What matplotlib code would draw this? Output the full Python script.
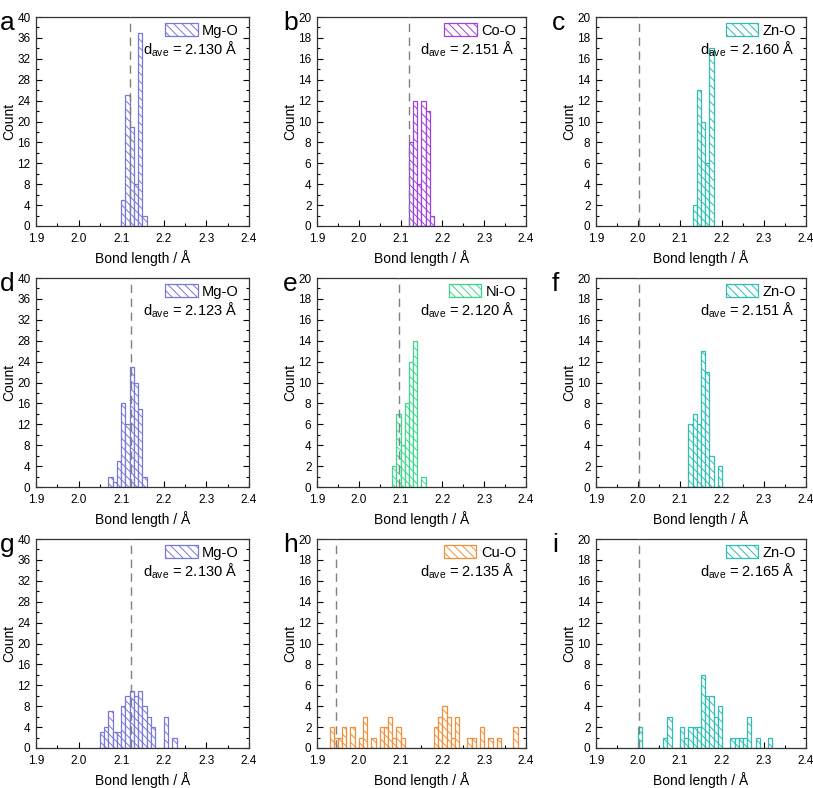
import numpy as np
import matplotlib as mpl
mpl.rcParams['font.family'] = ['Liberation Sans', 'DejaVu Sans']
mpl.rcParams['mathtext.fontset'] = 'custom'
mpl.rcParams['mathtext.rm'] = 'Liberation Sans'
mpl.rcParams['mathtext.it'] = 'Liberation Sans'
mpl.rcParams['hatch.linewidth'] = 0.7
import matplotlib.pyplot as plt

BIN = 0.01

# per panel: label, bond, colour, d_ave, first bin start, counts, reference line
labels = ['a', 'b', 'c', 'd', 'e', 'f', 'g', 'h', 'i']
bonds = ['Mg-O', 'Co-O', 'Zn-O', 'Mg-O', 'Ni-O', 'Zn-O', 'Mg-O', 'Cu-O', 'Zn-O']
d_ave = ['2.130', '2.151', '2.160', '2.123', '2.120', '2.151', '2.130', '2.135', '2.165']
ref_line = [2.12, 2.12, 2.003, 2.122, 2.095, 2.003, 2.122, 1.946, 2.003]
y_max = [40, 20, 20, 40, 20, 20, 40, 20, 20]

MG = '#7878d8'
CO = '#a040e0'
ZN = '#2ebfb2'
NI = '#3cd88c'
CU = '#f0903c'
colors = [MG, CO, ZN, MG, NI, ZN, MG, CU, ZN]

starts = [2.10, 2.12, 2.13, 2.07, 2.08, 2.12, 2.05, 1.93, 2.00]
counts = [
    [5, 25, 19, 8, 37, 2],
    [8, 12, 4, 12, 11, 1],
    [2, 13, 10, 6, 17],
    [2, 1, 5, 16, 12, 23, 20, 15, 2],
    [2, 7, 4, 8, 12, 14, 0, 1],
    [6, 7, 6, 13, 11, 3, 0, 2],
    [3, 4, 7, 3, 3, 8, 10, 11, 10, 11, 8, 6, 4, 0, 0, 6, 0, 2],
    [2, 1, 1, 2, 0, 2, 0, 1, 3, 0, 1, 0, 2, 2, 3, 1, 2, 1,
     0, 0, 0, 0, 0, 0, 0, 2, 3, 4, 3, 1, 3, 0, 0, 1, 1, 0, 2, 0, 1, 0, 1, 0, 0, 0, 2],
    [2, 0, 0, 0, 0, 0, 1, 3, 0, 0, 2, 1, 2, 2, 2, 7, 5, 5, 3, 4,
     0, 0, 1, 1, 1, 1, 3, 0, 1, 0, 0, 1],
]

# axes boxes in pixels (left, right) per column and (top, bottom) per row
W, H = 813, 788
cols = [(36, 249), (317, 526), (596, 806)]
rows = [(17, 226), (278, 487), (539, 748)]
letter_x = [0, 283, 552]

fig = plt.figure(figsize=(W / 100, H / 100), dpi=100)

for k in range(9):
    r, c = divmod(k, 3)
    l, rr = cols[c]
    t, b = rows[r]
    ax = fig.add_axes([l / W, 1 - b / H, (rr - l) / W, (b - t) / H])

    n = counts[k]
    x = starts[k] + BIN * np.arange(len(n))
    ax.bar(x, n, width=BIN, align='edge', facecolor='white',
           edgecolor=colors[k], hatch='\\\\\\\\', linewidth=0.9,
           label=bonds[k], zorder=2)
    ax.axvline(ref_line[k], color='#808080', linestyle=(0, (6, 4)),
               linewidth=1.0, zorder=3)

    ax.set_xlim(1.9, 2.4)
    ax.set_ylim(0, y_max[k])
    ax.set_xticks(np.arange(1.9, 2.41, 0.1))
    ax.set_xticks(np.arange(1.95, 2.4, 0.1), minor=True)
    step = y_max[k] / 10
    ax.set_yticks(np.arange(0, y_max[k] + 0.1, step))
    ax.set_yticks(np.arange(step / 2, y_max[k], step), minor=True)
    ax.xaxis.set_major_formatter(mpl.ticker.FormatStrFormatter('%.1f'))
    ax.tick_params(which='both', direction='in', right=True, labelsize=8.5,
                   width=0.8)
    ax.tick_params(axis='x', pad=5)
    ax.tick_params(axis='y', pad=4)
    ax.tick_params(which='major', length=4)
    ax.tick_params(which='minor', length=2.2)
    for s in ax.spines.values():
        s.set_linewidth(0.9)
        s.set_color('#333333')

    ax.set_xlabel('Bond length / Å', fontsize=10, labelpad=4)
    ax.set_ylabel('Count', fontsize=10, labelpad=1)

    ax.legend(loc='upper right', bbox_to_anchor=(0.965, 0.985), frameon=False,
              fontsize=10.5, handlelength=2.2, handleheight=1.0,
              handletextpad=0.3, borderaxespad=0, borderpad=0.2)
    ax.text(0.945, 0.845, r'$\mathregular{d_{ave}}$ = ' + d_ave[k] + ' Å',
            transform=ax.transAxes, ha='right', va='center', fontsize=10.5)

    fig.text(letter_x[c] / W, 1 - (t - 6) / H, labels[k],
             fontsize=19, ha='left', va='top')

fig.savefig('out.png', dpi=100)
